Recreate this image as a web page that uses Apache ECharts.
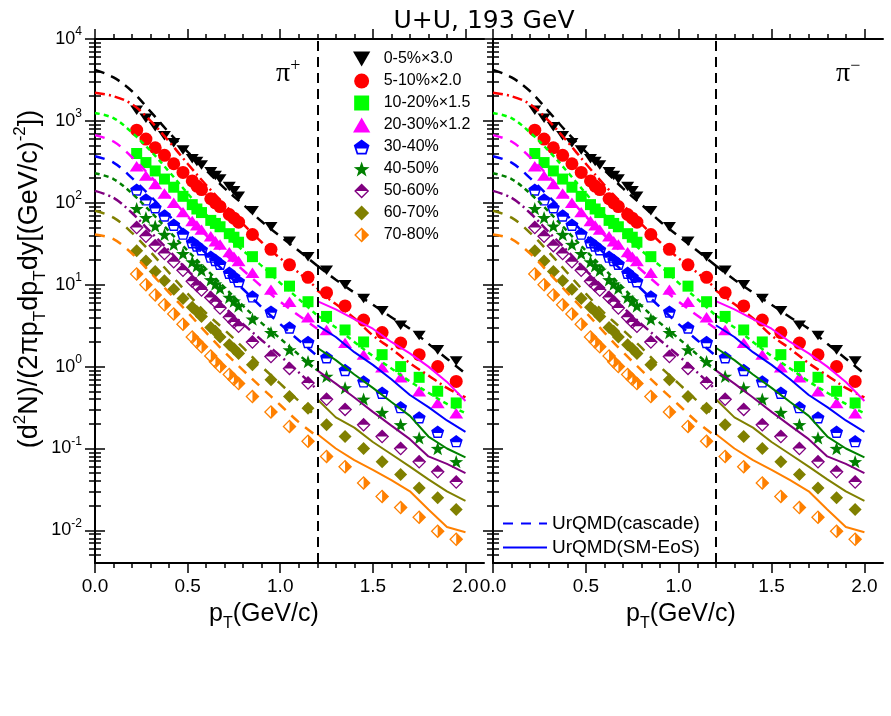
<!DOCTYPE html>
<html>
<head>
<meta charset="utf-8">
<script src="https://cdn.jsdelivr.net/npm/echarts@6/dist/echarts.min.js"></script>
<style>
html, body { margin: 0; padding: 0; background: #fff; }
#main { width: 891px; height: 716px; }
</style>
</head>
<body>
<div id="main"></div>
<script>
var FONT = 'Liberation Sans, Arial, sans-serif';

// pT bin centres of the measured points (GeV/c)
var pT = [0.225, 0.275, 0.325, 0.375, 0.425, 0.475, 0.525, 0.55, 0.575, 0.625, 0.65, 0.675, 0.725, 0.75, 0.775,
          0.85, 0.95, 1.05, 1.15, 1.25, 1.35, 1.45, 1.55, 1.65, 1.75, 1.85, 1.95];

var c0_5   = [1350, 1080, 850, 660, 540, 440, 345, 320, 290, 240, 215, 195, 158, 140, 120, 80, 51, 34, 22, 15, 10, 6.8, 4.8, 3.2, 2.4, 1.6, 1.17];
var c5_10  = [770, 600, 470, 380, 300, 235, 185, 160, 145, 112, 100, 90, 72, 65, 58, 41, 27, 17.5, 12.3, 8, 5.5, 3.7, 2.6, 1.94, 1.4, 1.0, 0.66];
var c10_20 = [400, 310, 245, 195, 155, 120, 95, 84, 76, 61, 56, 51, 42, 38, 33, 22, 14, 9.6, 6.2, 4.1, 2.8, 2.0, 1.4, 1.0, 0.74, 0.5, 0.36];
var c20_30 = [280, 215, 170, 130, 100, 77, 60, 53, 47, 39, 34, 31, 25, 22, 19.5, 14, 8.7, 6.2, 4.0, 2.8, 1.95, 1.4, 0.98, 0.74, 0.5, 0.36, 0.27];
var c30_40 = [145, 110, 88, 70, 54, 42, 33, 30, 27, 22, 20, 18, 14, 12.5, 11, 7.2, 4.7, 3.0, 2.0, 1.3, 0.91, 0.66, 0.48, 0.32, 0.24, 0.16, 0.123];
var c40_50 = [85, 66, 52, 41, 31, 24, 19, 17, 15, 11.5, 10.2, 9, 7, 6.3, 5.5, 3.8, 2.6, 1.6, 1.15, 0.76, 0.55, 0.40, 0.275, 0.195, 0.135, 0.10, 0.069];
var c50_60 = [50, 39, 30, 24, 19, 15, 11, 9.8, 8.6, 7, 6.2, 5.2, 4.0, 3.5, 3.1, 2.0, 1.33, 0.95, 0.63, 0.40, 0.30, 0.195, 0.14, 0.10, 0.069, 0.052, 0.039];
var c60_70 = [26, 19.5, 14.5, 11.2, 8.8, 6.8, 5.3, 4.7, 4.1, 3.0, 2.7, 2.3, 1.85, 1.65, 1.45, 1.05, 0.69, 0.43, 0.31, 0.195, 0.14, 0.10, 0.069, 0.048, 0.033, 0.025, 0.018];
var c70_80 = [13.5, 10, 7.5, 5.7, 4.4, 3.3, 2.3, 2.0, 1.75, 1.35, 1.15, 1.0, 0.8, 0.7, 0.62, 0.43, 0.28, 0.186, 0.123, 0.08, 0.06, 0.038, 0.026, 0.019, 0.0145, 0.0098, 0.0078];

// UrQMD curves: below 1.2 GeV/c and above
var mLo = [0, 0.1, 0.2, 0.3, 0.4, 0.5, 0.6, 0.7, 0.8, 0.9, 1.0, 1.1, 1.2];
var mHi = [1.2, 1.3, 1.4, 1.5, 1.6, 1.7, 1.8, 1.9, 2.0];

var lo0_5   = [4200, 3400, 2300, 1300, 720, 420, 250, 150, 95, 59, 39, 26, 17];
var lo5_10  = [2200, 2000, 1600, 1000, 560, 300, 165, 95, 55, 33, 21, 14, 9];
var lo10_20 = [1250, 1080, 720, 430, 240, 130, 72, 42, 26, 17, 10.5, 6.7, 4.2];
var lo20_30 = [670, 560, 360, 210, 120, 68, 40, 24, 15, 9.5, 6.2, 4.2, 2.9];
var lo30_40 = [370, 310, 200, 120, 70, 40, 24, 14.5, 8.8, 5.3, 3.3, 2.1, 1.35];
var lo40_50 = [230, 195, 130, 78, 45, 26, 15.5, 9.2, 5.5, 3.4, 2.2, 1.4, 0.9];
var lo50_60 = [140, 115, 75, 44, 26, 15, 9, 5.3, 3.3, 2.1, 1.35, 0.85, 0.52];
var lo60_70 = [80, 66, 43, 25, 14, 7.8, 4.5, 2.8, 1.7, 1.0, 0.62, 0.38, 0.24];
var lo70_80 = [41, 36, 24, 14, 8, 4.6, 2.6, 1.5, 0.9, 0.55, 0.34, 0.21, 0.14];

var hi0_5   = [17, 11.5, 8, 5.7, 4.0, 2.9, 1.9, 1.25, 0.82];
var hi5_10  = [8.5, 5.8, 3.9, 2.4, 1.65, 1.1, 0.78, 0.55, 0.42];
var hi10_20 = [4.2, 3.0, 2.0, 1.35, 0.95, 0.66, 0.48, 0.35, 0.27];
var hi20_30 = [6.3, 5.0, 3.8, 2.9, 2.0, 1.45, 1.0, 0.65, 0.38];
var hi30_40 = [3.2, 2.3, 1.5, 1.05, 0.7, 0.45, 0.32, 0.22, 0.16];
var hi40_50 = [1.7, 1.2, 0.8, 0.55, 0.37, 0.25, 0.14, 0.1, 0.078];
var hi50_60 = [0.9, 0.62, 0.42, 0.28, 0.19, 0.13, 0.08, 0.065, 0.05];
var hi60_70 = [0.40, 0.24, 0.18, 0.12, 0.085, 0.06, 0.042, 0.03, 0.023];
var hi70_80 = [0.15, 0.1, 0.072, 0.055, 0.041, 0.03, 0.018, 0.011, 0.0095];

// ticks
var X_LABELS = [0, 0.5, 1.0, 1.5, 2.0];
var X_MINOR = [0.1, 0.2, 0.3, 0.4, 0.6, 0.7, 0.8, 0.9, 1.1, 1.2, 1.3, 1.4, 1.6, 1.7, 1.8, 1.9];
var Y_LABELS = [0.01, 0.1, 1, 10, 100, 1000, 10000];
var Y_MINOR = [0.005, 0.006, 0.007, 0.008, 0.009,
               0.02, 0.03, 0.04, 0.05, 0.06, 0.07, 0.08, 0.09,
               0.2, 0.3, 0.4, 0.5, 0.6, 0.7, 0.8, 0.9,
               2, 3, 4, 5, 6, 7, 8, 9,
               20, 30, 40, 50, 60, 70, 80, 90,
               200, 300, 400, 500, 600, 700, 800, 900,
               2000, 3000, 4000, 5000, 6000, 7000, 8000, 9000];

// marker shapes
var TRI_DOWN = 'path://M0,0L12,0L6,10.4Z';
var TRI_UP = 'path://M6,0L12,10.4L0,10.4Z';
var SQUARE = 'path://M0,0L10,0L10,10L0,10Z';
var DIAMOND = 'path://M10,0L20,10L10,20L0,10Z';
var STAR = 'path://M10,0L12.35,6.76L19.51,6.91L13.8,11.24L15.88,18.09L10,14L4.12,18.09L6.2,11.24L0.49,6.91L7.65,6.76Z';
var PENTA = 'path://M10,0L19.51,6.91L15.88,18.09L4.12,18.09L0.49,6.91Z' +
            'M10,2.6L2.96,7.71L5.65,15.99L14.35,15.99L17.04,7.71Z' +
            'M10,2.6L17.04,7.71L16.03,10.8L3.97,10.8L2.96,7.71Z';
var DIA_TOP = 'path://M10,0L20,10L10,20L0,10Z M10,2.6L2.6,10L10,17.4L17.4,10Z M10,2.6L17.4,10L2.6,10Z';
var DIA_RIGHT = 'path://M10,0L20,10L10,20L0,10Z M10,2.6L2.6,10L10,17.4L17.4,10Z M10,2.6L17.4,10L10,17.4Z';

var markers = [
  { name: '0-5%×3.0',   data: c0_5,   color: '#000000', symbol: TRI_DOWN, size: [13, 11] },
  { name: '5-10%×2.0',  data: c5_10,  color: '#ff0000', symbol: 'circle', size: 13 },
  { name: '10-20%×1.5', data: c10_20, color: '#00ff00', symbol: SQUARE,   size: 11 },
  { name: '20-30%×1.2', data: c20_30, color: '#ff00ff', symbol: TRI_UP,   size: [14, 12] },
  { name: '30-40%',     data: c30_40, color: '#0000ff', symbol: PENTA,    size: 13 },
  { name: '40-50%',     data: c40_50, color: '#008000', symbol: STAR,     size: 14 },
  { name: '50-60%',     data: c50_60, color: '#800080', symbol: DIA_TOP,  size: 14 },
  { name: '60-70%',     data: c60_70, color: '#808000', symbol: DIAMOND,  size: 13 },
  { name: '70-80%',     data: c70_80, color: '#ff8000', symbol: DIA_RIGHT, size: 14 }
];

var models = [
  { lo: lo0_5,   hi: hi0_5,   dash: [10, 7],       hiSolid: false },
  { lo: lo5_10,  hi: hi5_10,  dash: [10, 4, 2, 4], hiSolid: false },
  { lo: lo10_20, hi: hi10_20, dash: [5, 4],        hiSolid: false },
  { lo: lo20_30, hi: hi20_30, dash: [10, 8],       hiSolid: true },
  { lo: lo30_40, hi: hi30_40, dash: [10, 8],       hiSolid: true },
  { lo: lo40_50, hi: hi40_50, dash: [5, 4],        hiSolid: true },
  { lo: lo50_60, hi: hi50_60, dash: [10, 4, 2, 4], hiSolid: true },
  { lo: lo60_70, hi: hi60_70, dash: [10, 8],       hiSolid: true },
  { lo: lo70_80, hi: hi70_80, dash: [10, 8],       hiSolid: true }
];

function pairs(xs, ys) {
  var out = [];
  for (var i = 0; i < xs.length; i++) out.push([xs[i], ys[i]]);
  return out;
}

var grids = [
  { left: 95, top: 39, width: 389, height: 524 },
  { left: 493, top: 39, width: 390, height: 524 }
];

var xAxes = [];
var yAxes = [];
var series = [];

function axisX(g, pos, major, labels) {
  return {
    type: 'value', gridIndex: g, position: pos, min: 0, max: 2.1,
    axisLine: { show: major, lineStyle: { color: '#000', width: 2 } },
    axisTick: { show: true, inside: false, length: major ? 10 : 5,
                customValues: major ? X_LABELS : X_MINOR,
                lineStyle: { color: '#000', width: 1.5 } },
    axisLabel: { show: labels, customValues: X_LABELS, margin: 14, color: '#000',
                 fontSize: 19, fontFamily: FONT,
                 formatter: function (v) { return v.toFixed(1); } },
    splitLine: { show: false }
  };
}

function axisY(g, pos, major, labels) {
  return {
    type: 'log', logBase: 10, gridIndex: g, position: pos, min: 0.004, max: 10000,
    axisLine: { show: major, lineStyle: { color: '#000', width: 2 } },
    axisTick: { show: true, inside: false, length: major ? 10 : 6,
                customValues: major ? Y_LABELS : Y_MINOR,
                lineStyle: { color: '#000', width: 1.5 } },
    axisLabel: { show: labels, customValues: Y_LABELS, margin: 13, color: '#000',
                 formatter: function (v) {
                   return '{b|10}{s|' + Math.round(Math.log10(v)) + '}';
                 },
                 rich: {
                   b: { fontSize: 18, fontFamily: FONT, color: '#000', lineHeight: 26 },
                   s: { fontSize: 12, fontFamily: FONT, color: '#000', lineHeight: 12, verticalAlign: 'top' }
                 } },
    splitLine: { show: false }
  };
}

for (var g = 0; g < 2; g++) {
  xAxes.push(axisX(g, 'bottom', true, true));
  xAxes.push(axisX(g, 'bottom', false, false));
  xAxes.push(axisX(g, 'top', true, false));
  xAxes.push(axisX(g, 'top', false, false));
  yAxes.push(axisY(g, 'left', true, g === 0));
  yAxes.push(axisY(g, 'left', false, false));
  yAxes.push(axisY(g, 'right', true, false));
  yAxes.push(axisY(g, 'right', false, false));

  markers.forEach(function (m, k) {
    var s = {
      type: 'scatter', name: m.name, xAxisIndex: 4 * g, yAxisIndex: 4 * g,
      data: pairs(pT, m.data), symbol: m.symbol, symbolSize: m.size, symbolKeepAspect: true,
      itemStyle: { color: m.color, opacity: 1 }, z: 2, silent: true
    };
    if (k === 0) {
      s.markLine = {
        silent: true, symbol: 'none', label: { show: false },
        lineStyle: { color: '#000', type: [10, 6], width: 2 },
        data: [{ xAxis: 1.2 }]
      };
    }
    series.push(s);
  });

  models.forEach(function (m, k) {
    var color = markers[k].color;
    series.push({
      type: 'line', xAxisIndex: 4 * g, yAxisIndex: 4 * g, data: pairs(mLo, m.lo),
      showSymbol: false, smooth: 0.35, z: 3, silent: true,
      lineStyle: { color: color, width: 2.5, type: m.dash }
    });
    series.push({
      type: 'line', xAxisIndex: 4 * g, yAxisIndex: 4 * g, data: pairs(mHi, m.hi),
      showSymbol: false, smooth: m.hiSolid ? false : 0.35, z: 3, silent: true,
      lineStyle: { color: color, width: m.hiSolid ? 2 : 2.5, type: m.hiSolid ? 'solid' : m.dash }
    });
  });
}

// legend-only entries for the model styles
series.push({ type: 'line', name: 'UrQMD(cascade)', xAxisIndex: 4, yAxisIndex: 4, data: [],
              symbol: 'none', showSymbol: false, itemStyle: { color: '#0000ff', opacity: 0 },
              lineStyle: { color: '#0000ff', width: 2, type: [10, 8] } });
series.push({ type: 'line', name: 'UrQMD(SM-EoS)', xAxisIndex: 4, yAxisIndex: 4, data: [],
              symbol: 'none', showSymbol: false, itemStyle: { color: '#0000ff', opacity: 0 },
              lineStyle: { color: '#0000ff', width: 2, type: 'solid' } });

var subRich = function (size) {
  return {
    a: { fontSize: size, fontFamily: FONT, color: '#000', lineHeight: size + 10 },
    sup: { fontSize: Math.round(size * 0.62), fontFamily: FONT, color: '#000', lineHeight: Math.round(size * 0.62), verticalAlign: 'top' },
    sub: { fontSize: Math.round(size * 0.62), fontFamily: FONT, color: '#000', lineHeight: Math.round(size * 0.62), verticalAlign: 'bottom' }
  };
};

var piRich = {
  p: { fontSize: 28, fontFamily: 'Liberation Serif, serif', color: '#000', lineHeight: 34 },
  s: { fontSize: 18, fontFamily: 'Liberation Serif, serif', color: '#000', lineHeight: 18, verticalAlign: 'top' }
};

var option = {
  animation: false,
  backgroundColor: '#ffffff',
  title: {
    text: 'U+U, 193 GeV', left: 479, top: 4, textAlign: 'center',
    textStyle: { fontSize: 25, fontWeight: 'normal', fontFamily: 'DejaVu Sans, sans-serif', color: '#000' }
  },
  grid: grids,
  xAxis: xAxes,
  yAxis: yAxes,
  legend: [
    {
      data: markers.map(function (m) { return m.name; }),
      orient: 'vertical', left: 348, top: 46, itemWidth: 34, itemHeight: 15, itemGap: 6,
      selectedMode: false,
      textStyle: { fontSize: 16, fontFamily: FONT, color: '#000' }
    },
    {
      data: ['UrQMD(cascade)', 'UrQMD(SM-EoS)'],
      orient: 'vertical', left: 497, top: 509, itemWidth: 44, itemHeight: 14, itemGap: 5,
      selectedMode: false,
      itemStyle: { opacity: 0 },
      textStyle: { fontSize: 19, fontFamily: FONT, color: '#000' }
    }
  ],
  graphic: [
    { type: 'text', left: 276, top: 57, style: { text: '{p|π}{s|+}', rich: piRich } },
    { type: 'text', left: 836, top: 57, style: { text: '{p|π}{s|−}', rich: piRich } },
    { type: 'text', left: 209, top: 602, style: { text: '{a|p}{sub|T}{a|(GeV/c)}', rich: subRich(25) } },
    { type: 'text', left: 626, top: 602, style: { text: '{a|p}{sub|T}{a|(GeV/c)}', rich: subRich(25) } },
    { type: 'text', x: 30, y: 279, rotation: Math.PI / 2,
      style: { text: '{a|(d}{sup|2}{a|N)/(2πp}{sub|T}{a|dp}{sub|T}{a|dy[(GeV/c)}{sup|-2}{a|])}',
               align: 'center', verticalAlign: 'middle', rich: subRich(27) } }
  ],
  series: series
};

var chart = echarts.init(document.getElementById('main'));
chart.setOption(option);
</script>
</body>
</html>
